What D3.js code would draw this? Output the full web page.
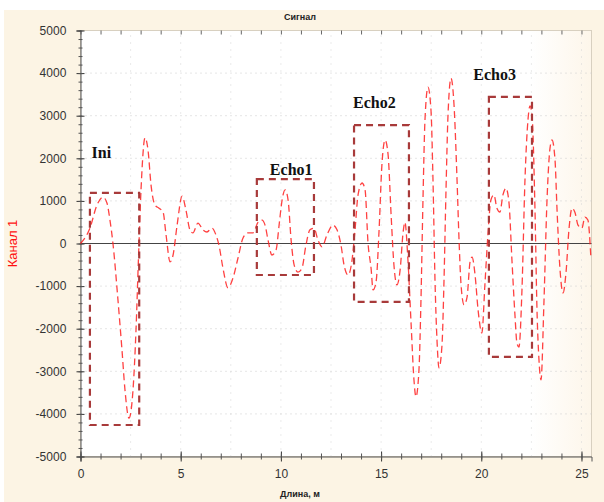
<!DOCTYPE html>
<html><head><meta charset="utf-8">
<script src="https://cdn.jsdelivr.net/npm/d3@7"></script>
<style>body{margin:0;background:#fff}svg{display:block}</style>
</head><body>
<script>
const titleText = "Сигнал";
const xLabel = "Длина, м";
const yLabel = "Канал 1";
const xTicks = [0, 5, 10, 15, 20, 25];
const yTicks = [5000, 4000, 3000, 2000, 1000, 0, -1000, -2000, -3000, -4000, -5000];
const xDomain = [0, 25.5];
const yDomain = [-5000, 5000];

const sigX = [0,0.47,0.82,1.12,1.32,1.47,1.62,1.87,2.07,2.22,2.42,2.62,2.77,2.89,3.02,3.22,3.37,3.52,3.72,3.92,4.12,4.27,4.47,4.62,4.82,5.07,5.26,5.46,5.61,5.86,6.11,6.31,6.56,6.76,6.91,7.11,7.36,7.61,7.86,8.11,8.36,8.61,8.86,9.06,9.21,9.36,9.55,9.76,9.91,10.06,10.21,10.36,10.51,10.66,10.85,11.05,11.25,11.45,11.65,11.85,12.05,12.30,12.6,12.8,13.0,13.15,13.35,13.55,13.7,13.85,14.05,14.2,14.35,14.5,14.6,14.75,14.9,15.04,15.2,15.35,15.5,15.64,15.79,15.95,16.1,16.19,16.34,16.5,16.64,16.74,16.89,16.99,17.09,17.19,17.34,17.49,17.59,17.69,17.79,17.89,18.04,18.14,18.24,18.34,18.49,18.64,18.79,18.89,18.99,19.14,19.29,19.44,19.54,19.69,19.84,20.03,20.18,20.33,20.48,20.63,20.78,20.93,21.08,21.23,21.38,21.53,21.68,21.78,21.88,22.03,22.18,22.33,22.43,22.53,22.68,22.78,22.88,22.98,23.13,23.28,23.43,23.53,23.68,23.78,23.93,24.08,24.23,24.38,24.53,24.68,24.83,25.02,25.17,25.32,25.47];
const sigY = [0,360,900,1090,950,550,0,-1330,-2500,-3440,-4100,-3440,-2030,-390,1260,2480,2190,1370,900,830,740,200,-430,-270,430,1110,790,320,250,480,320,270,360,200,-40,-580,-1040,-810,-340,130,250,250,500,550,430,80,-270,-150,430,1020,1260,1020,80,-500,-670,-580,-40,320,360,80,-80,200,430,320,-40,-500,-740,-390,320,1140,1420,1260,0,-580,-1090,-900,320,1840,2430,2080,670,-500,-970,-620,270,500,-390,-1910,-3200,-3600,-2970,-1330,1020,2900,3670,3130,1490,-860,-2270,-2920,-2380,-860,1260,3020,3880,3250,1490,80,-970,-1440,-1260,-430,-320,-740,-1560,-2100,-970,200,1020,1140,830,740,1140,1300,970,-390,-1680,-2340,-2430,-1090,1490,2900,3230,3020,790,-1560,-2740,-3200,-1330,1020,2240,2430,1960,790,-620,-1160,-670,360,830,720,430,360,620,550,-340];

const boxNames = ["Ini", "Echo1", "Echo2", "Echo3"];
const boxX0 = [0.47, 8.8, 13.65, 20.38];
const boxX1 = [2.93, 11.65, 16.39, 22.53];
const boxYTop = [1190, 1510, 2780, 3440];
const boxYBot = [-4260, -740, -1370, -2660];
const labelX = [0.55, 9.45, 13.6, 19.6];
const labelY = [2000, 1600, 3170, 3840];

const W = 604, H = 502;
const m = {l: 80.5, r: 12.5, t: 30.5, b: 45.5};
const svg = d3.select("body").append("svg").attr("width", W).attr("height", H);
const defs = svg.append("defs");
const grad = defs.append("linearGradient").attr("id", "pg").attr("x1", "0").attr("x2", "1").attr("y1", "0").attr("y2", "0");
grad.append("stop").attr("offset", "0.88").attr("stop-color", "#ffffff");
grad.append("stop").attr("offset", "1").attr("stop-color", "#fdf6ea");

svg.append("rect").attr("x", 4).attr("y", 10).attr("width", W - 4).attr("height", H - 10).attr("fill", "#fcf4e4");

const x = d3.scaleLinear().domain(xDomain).range([m.l, W - m.r]);
const y = d3.scaleLinear().domain(yDomain).range([H - m.b, m.t]);

svg.append("rect").attr("x", x(xDomain[0])).attr("y", y(yDomain[1]))
  .attr("width", x(xDomain[1]) - x(xDomain[0])).attr("height", y(yDomain[0]) - y(yDomain[1]))
  .attr("fill", "url(#pg)").attr("stroke", "#d8d0c0").attr("stroke-width", 1);

// faint dotted grid
const g = svg.append("g");
g.selectAll("line.gy").data(yTicks.filter(v => v !== 0 && Math.abs(v) !== 5000)).join("line")
  .attr("x1", x(xDomain[0])).attr("x2", x(xDomain[1])).attr("y1", d => y(d)).attr("y2", d => y(d))
  .attr("stroke", "#cccccc").attr("stroke-width", 1).attr("stroke-dasharray", "1,4");
g.selectAll("line.gx").data(d3.range(2.5, 25.1, 2.5)).join("line")
  .attr("y1", y(yDomain[0])).attr("y2", y(yDomain[1])).attr("x1", d => x(d)).attr("x2", d => x(d))
  .attr("stroke", "#d6d6d6").attr("stroke-width", 1).attr("stroke-dasharray", "1,6");

const fmt = d => String(d);
// axes
const xAxis = d3.axisBottom(x).tickValues(xTicks).tickSize(5).tickFormat(fmt);
const gx = svg.append("g").attr("transform", `translate(0,${y(yDomain[0])})`).call(xAxis);
gx.select(".domain").attr("stroke", "#555");
gx.selectAll(".tick line").attr("stroke", "#333").attr("y1", -5).attr("y2", 5);
gx.selectAll("text").attr("font-family", "Liberation Sans, Arial").attr("font-size", 12).attr("fill", "#333").attr("dy", "1.15em");
const xMinor = d3.axisBottom(x).tickValues(d3.range(0, 25.5, 1)).tickSize(3).tickFormat("");
const gxm = svg.append("g").attr("transform", `translate(0,${y(yDomain[0])})`).call(xMinor);
gxm.select(".domain").remove();
gxm.selectAll(".tick line").attr("stroke", "#555").attr("y1", -3).attr("y2", 3);
const gxt = svg.append("g").attr("transform", `translate(0,${y(yDomain[1])})`).call(d3.axisTop(x).tickValues(d3.range(0, 25.5, 1)).tickSize(-4).tickFormat(""));
gxt.select(".domain").remove();
gxt.selectAll(".tick line").attr("stroke", "#666");

const yAxis = d3.axisLeft(y).tickValues(yTicks).tickSize(4).tickFormat(fmt);
const gy = svg.append("g").attr("transform", `translate(${x(xDomain[0])},0)`).call(yAxis);
gy.select(".domain").attr("stroke", "#555");
gy.selectAll(".tick line").attr("stroke", "#333").attr("x1", -4).attr("x2", 4);
gy.selectAll("text").attr("font-family", "Liberation Sans, Arial").attr("font-size", 12).attr("fill", "#333").attr("dx", "-0.6em");
const gym = svg.append("g").attr("transform", `translate(${x(xDomain[0])},0)`).call(d3.axisLeft(y).tickValues(d3.range(-5000, 5001, 200)).tickSize(2).tickFormat(""));
gym.select(".domain").remove();
gym.selectAll(".tick line").attr("stroke", "#555").attr("x1", -2).attr("x2", 2);

// zero line
svg.append("line").attr("x1", x(xDomain[0])).attr("x2", x(xDomain[1])).attr("y1", y(0)).attr("y2", y(0))
  .attr("stroke", "#444").attr("stroke-width", 1.2);

// signal
const pts = sigX.map((v, i) => [v, sigY[i]]);
const line = d3.line().x(d => x(d[0])).y(d => y(d[1])).curve(d3.curveMonotoneX);
svg.append("path").datum(pts).attr("d", line).attr("fill", "none")
  .attr("stroke", "#ff2020").attr("stroke-width", 1.3).attr("stroke-dasharray", "7,4").attr("stroke-opacity", 0.85);

// boxes
boxNames.forEach((n, i) => {
  svg.append("rect").attr("x", x(boxX0[i])).attr("y", y(boxYTop[i]))
    .attr("width", x(boxX1[i]) - x(boxX0[i])).attr("height", y(boxYBot[i]) - y(boxYTop[i]))
    .attr("fill", "none").attr("stroke", "#a83a3a").attr("stroke-width", 2.2).attr("stroke-dasharray", "7,5");
  svg.append("text").attr("x", x(labelX[i])).attr("y", y(labelY[i])).text(n)
    .attr("font-family", "Liberation Serif, Times New Roman, serif").attr("font-weight", "bold")
    .attr("font-size", 16).attr("fill", "#111");
});

// titles
svg.append("text").attr("x", 300).attr("y", 20).attr("text-anchor", "middle").text(titleText)
  .attr("font-family", "Liberation Sans, Arial").attr("font-weight", "bold").attr("font-size", 9).attr("fill", "#222");
svg.append("text").attr("x", 300).attr("y", 497).attr("text-anchor", "middle").text(xLabel)
  .attr("font-family", "Liberation Sans, Arial").attr("font-weight", "bold").attr("font-size", 9).attr("fill", "#222");
svg.append("text").attr("transform", `translate(17,${y(0)}) rotate(-90)`).attr("text-anchor", "middle").text(yLabel)
  .attr("font-family", "Liberation Sans, Arial").attr("font-size", 13).attr("fill", "#ff1010");
</script>
</body></html>
